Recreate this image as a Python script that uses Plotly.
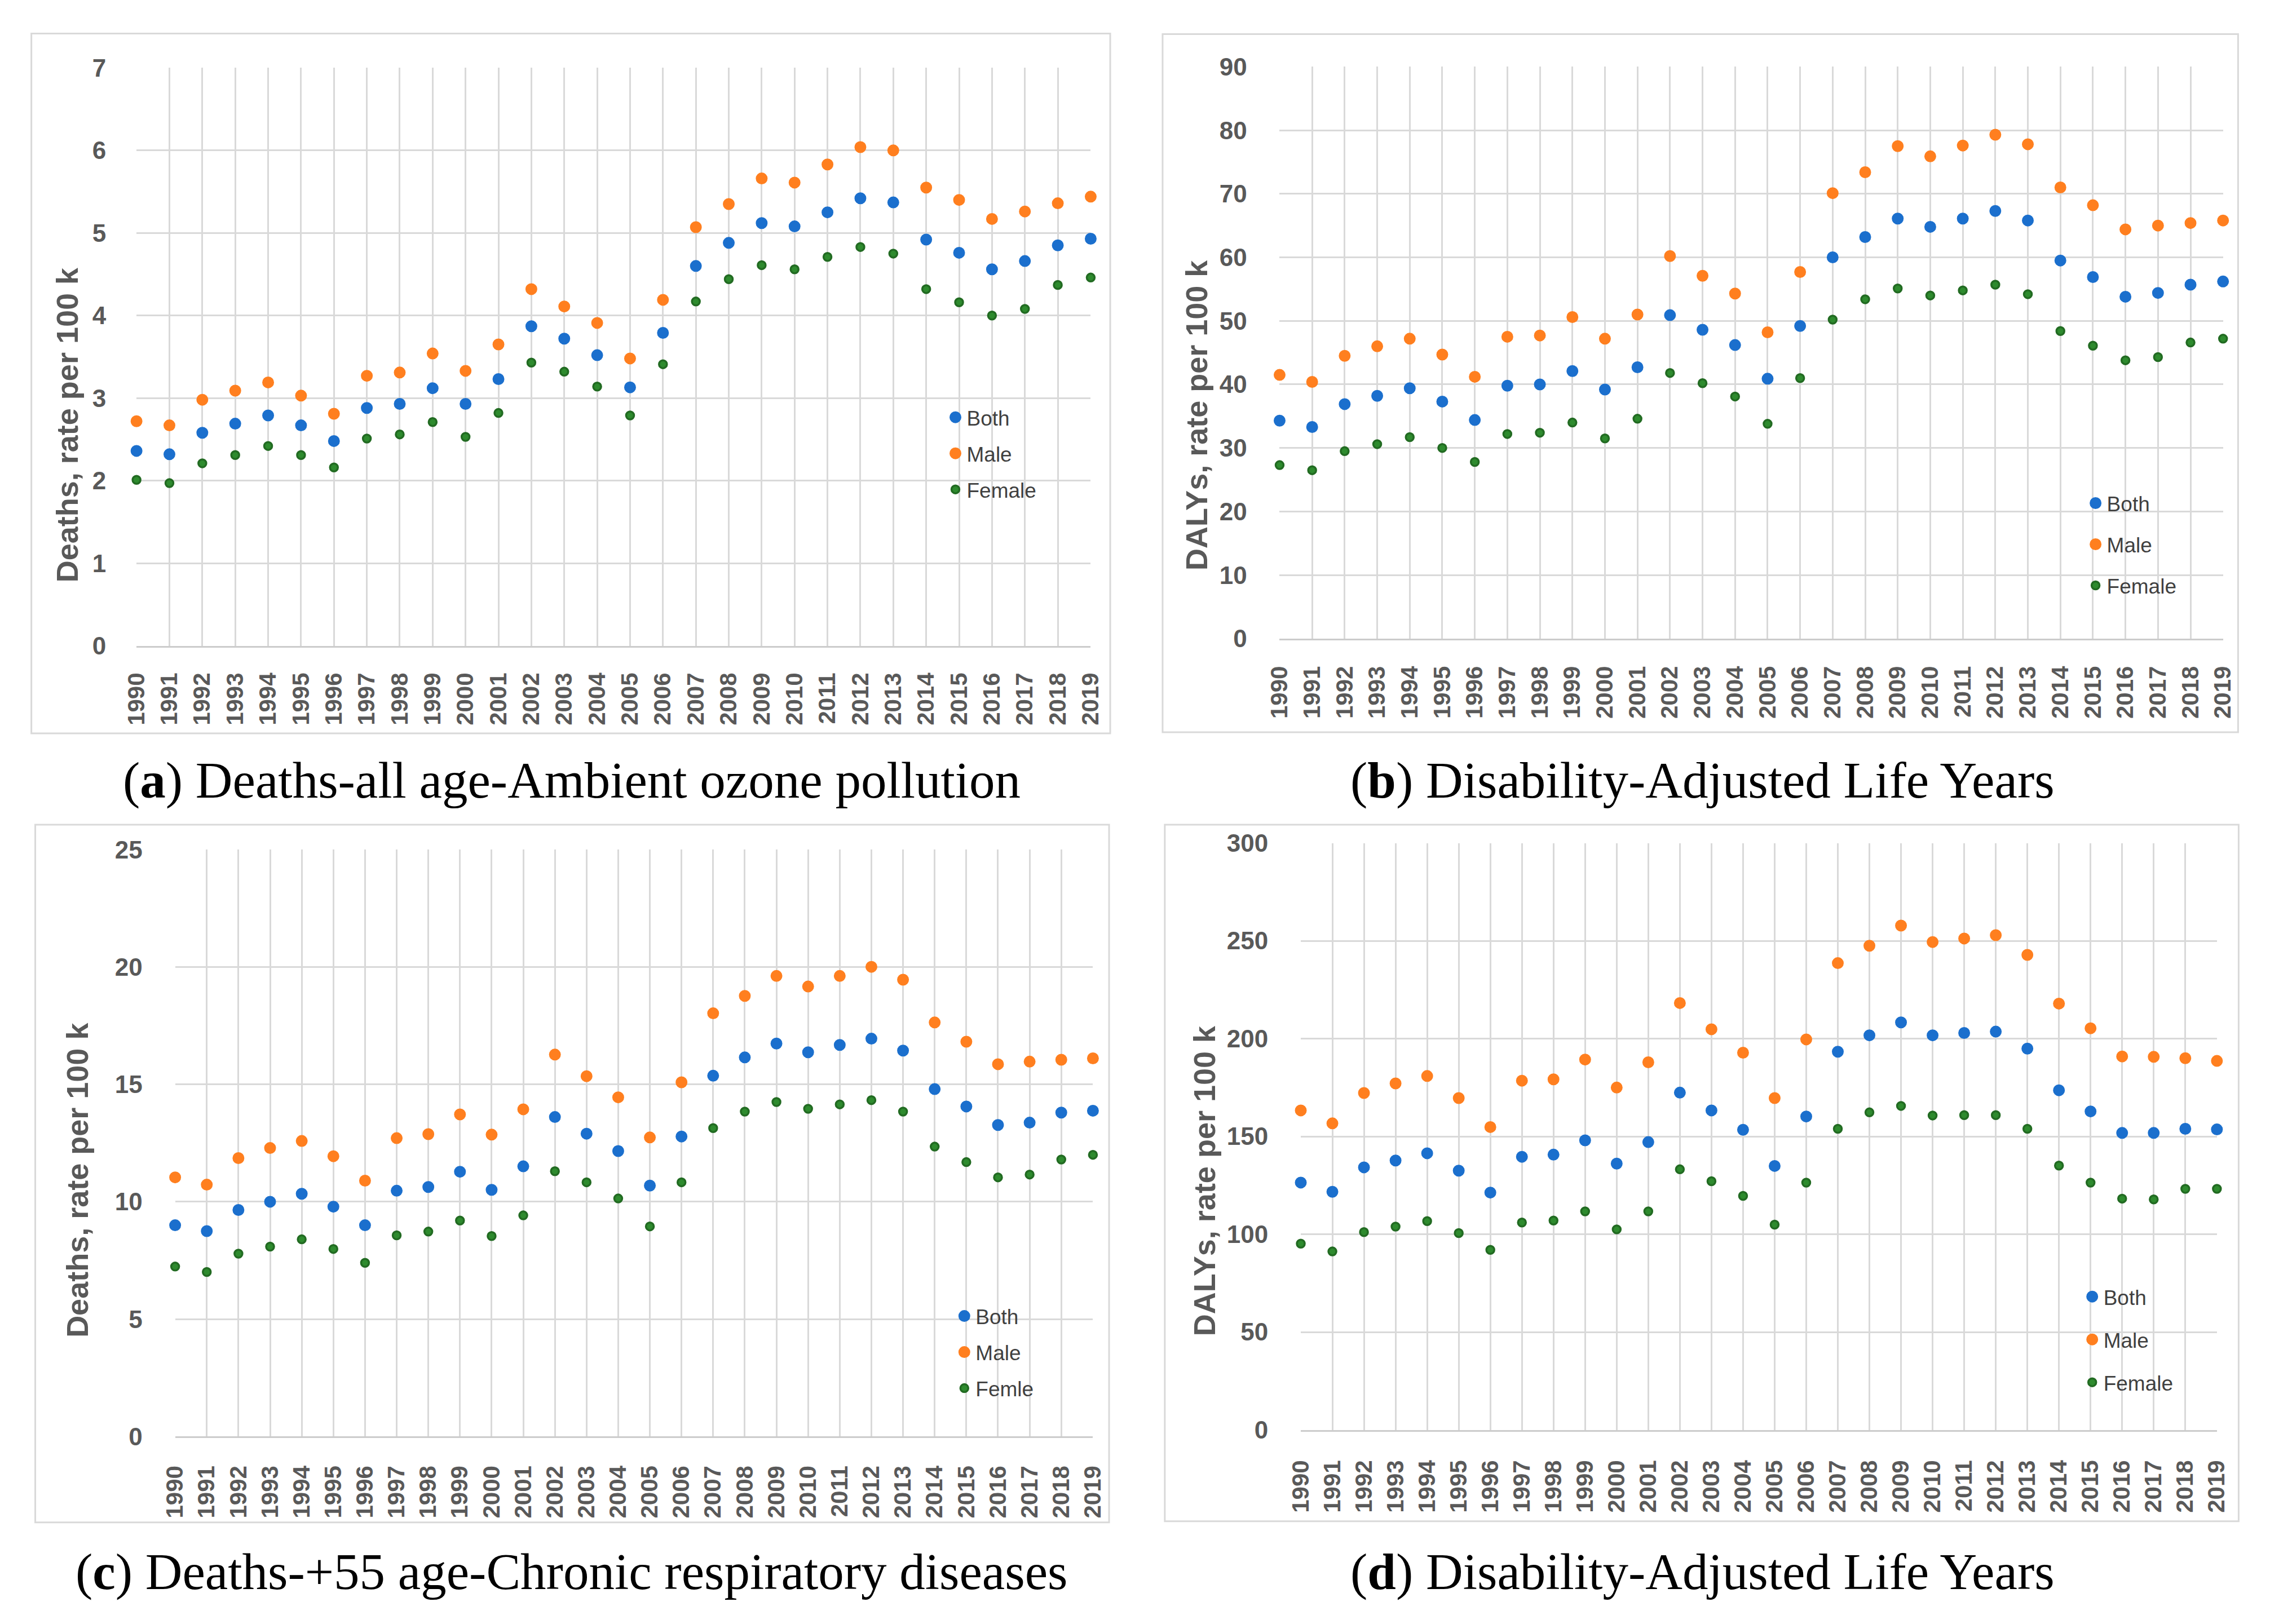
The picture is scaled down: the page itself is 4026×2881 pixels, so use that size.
import plotly.graph_objects as go

# ---------------- data ----------------
years = list(range(1990, 2020))

a_both = [2.36, 2.32, 2.58, 2.69, 2.79, 2.67, 2.48, 2.88, 2.93, 3.12, 2.93, 3.23, 3.87, 3.72, 3.52,
          3.13, 3.79, 4.60, 4.88, 5.12, 5.08, 5.25, 5.42, 5.37, 4.92, 4.76, 4.56, 4.66, 4.85, 4.93]
a_male = [2.72, 2.67, 2.98, 3.09, 3.19, 3.03, 2.81, 3.27, 3.31, 3.54, 3.33, 3.65, 4.32, 4.11, 3.91,
          3.48, 4.19, 5.07, 5.35, 5.66, 5.61, 5.83, 6.04, 6.00, 5.55, 5.40, 5.17, 5.26, 5.36, 5.44]
a_female = [2.01, 1.97, 2.21, 2.31, 2.42, 2.31, 2.16, 2.51, 2.56, 2.71, 2.53, 2.82, 3.43, 3.32, 3.14,
            2.79, 3.41, 4.17, 4.44, 4.61, 4.56, 4.71, 4.83, 4.75, 4.32, 4.16, 4.00, 4.08, 4.37, 4.46]

b_both = [34.3, 33.3, 36.9, 38.2, 39.4, 37.3, 34.4, 39.8, 40.0, 42.1, 39.2, 42.7, 50.9, 48.6, 46.2,
          40.9, 49.2, 60.0, 63.2, 66.1, 64.8, 66.1, 67.3, 65.8, 59.5, 56.9, 53.8, 54.4, 55.7, 56.2]
b_male = [41.5, 40.4, 44.5, 46.0, 47.2, 44.7, 41.2, 47.5, 47.7, 50.6, 47.2, 51.0, 60.2, 57.1, 54.3,
          48.2, 57.7, 70.1, 73.4, 77.5, 75.9, 77.6, 79.3, 77.8, 71.0, 68.2, 64.4, 65.0, 65.4, 65.8]
b_female = [27.3, 26.5, 29.5, 30.6, 31.7, 30.0, 27.8, 32.2, 32.4, 34.0, 31.5, 34.6, 41.8, 40.2, 38.1,
            33.8, 41.0, 50.2, 53.4, 55.1, 54.0, 54.8, 55.7, 54.2, 48.4, 46.1, 43.8, 44.3, 46.6, 47.2]

c_both = [9.00, 8.75, 9.65, 10.00, 10.34, 9.79, 9.00, 10.47, 10.63, 11.28, 10.51, 11.51, 13.61, 12.90, 12.16,
          10.69, 12.78, 15.37, 16.15, 16.74, 16.37, 16.68, 16.95, 16.44, 14.80, 14.06, 13.27, 13.37, 13.80, 13.88]
c_male = [11.04, 10.73, 11.86, 12.29, 12.59, 11.94, 10.90, 12.71, 12.88, 13.72, 12.86, 13.94, 16.27, 15.35, 14.45,
          12.74, 15.09, 18.03, 18.77, 19.62, 19.17, 19.62, 20.01, 19.46, 17.64, 16.82, 15.86, 15.97, 16.05, 16.11]
c_female = [7.24, 7.01, 7.79, 8.09, 8.40, 7.99, 7.40, 8.57, 8.73, 9.20, 8.54, 9.42, 11.30, 10.83, 10.14,
            8.95, 10.83, 13.14, 13.84, 14.25, 13.96, 14.15, 14.33, 13.84, 12.35, 11.69, 11.04, 11.16, 11.80, 12.00]

d_both = [126.4, 121.7, 134.2, 137.7, 141.4, 132.5, 121.3, 139.6, 140.7, 148.0, 136.1, 147.1, 172.4, 163.3, 153.4,
          134.9, 160.2, 193.3, 201.7, 208.3, 201.7, 202.9, 203.6, 194.9, 173.6, 162.8, 151.8, 151.8, 153.9, 153.6]
d_male = [163.3, 156.7, 172.2, 177.1, 180.9, 169.6, 154.8, 178.5, 179.2, 189.3, 175.0, 187.9, 218.2, 204.8, 192.8,
          169.6, 199.6, 238.6, 247.5, 257.8, 249.4, 251.2, 252.9, 242.8, 217.9, 205.3, 190.9, 190.7, 190.0, 188.6]
d_female = [95.2, 91.2, 101.1, 103.9, 106.7, 100.6, 92.0, 106.0, 107.0, 111.7, 102.5, 111.7, 133.2, 127.1, 119.6,
            104.9, 126.4, 153.9, 162.3, 165.6, 160.7, 160.9, 160.9, 153.9, 135.1, 126.4, 118.2, 117.8, 123.2, 123.2]

series_names_a = ["Both", "Male", "Female"]
series_names_c = ["Both", "Male", "Femle"]

y_titles = ["Deaths, rate per 100 k", "DALYs, rate per 100 k",
            "Deaths, rate per 100 k", "DALYs, rate per 100 k"]
captions = ["(<b>a</b>) Deaths-all age-Ambient ozone pollution",
            "(<b>b</b>) Disability-Adjusted Life Years",
            "(<b>c</b>) Deaths-+55 age-Chronic respiratory diseases",
            "(<b>d</b>) Disability-Adjusted Life Years"]
y_max = [7, 90, 25, 300]
y_dtick = [1, 10, 5, 50]

# ---------------- layout helpers ----------------
W, H = 4026, 2881
def fx(px):
    return px / W
def fy(py):
    return 1 - py / H

COL_BOTH = "#1b6fcd"
COL_MALE = "#ff7f1f"
COL_FEMALE = "#2e8b2e"
EDGE_FEMALE = "#226b22"
GRID = "#d9d9d9"
TXT = "#595959"

panels = [
    dict(data=(a_both, a_male, a_female), names=series_names_a,
         plot=(220.7, 97, 1933, 1140), frame=(32, 35, 1968, 1298),
         title_xy=(97, 741), legend_xy=(1691, 722), legend_step=64,
         caption_xy=(1002, 1383), ystand=44, xstand=28),
    dict(data=(b_both, b_male, b_female), names=series_names_a,
         plot=(2272, 95, 3965, 1127), frame=(2062, 36, 3992, 1296),
         title_xy=(2122, 724), legend_xy=(3737, 877), legend_step=73,
         caption_xy=(3031, 1383), ystand=48, xstand=29),
    dict(data=(c_both, c_male, c_female), names=series_names_c,
         plot=(290, 1508, 1937, 2567), frame=(39, 1463, 1966, 2722),
         title_xy=(115, 2104), legend_xy=(1707, 2344), legend_step=64,
         caption_xy=(1001, 2811), ystand=48, xstand=32),
    dict(data=(d_both, d_male, d_female), names=series_names_a,
         plot=(2310, 1496, 3954, 2555), frame=(2066, 1463, 3993, 2720),
         title_xy=(2137, 2106), legend_xy=(3731, 2309), legend_step=76,
         caption_xy=(3031, 2811), ystand=48, xstand=34),
]

fig = go.Figure()
layout = dict(
    width=W, height=H,
    margin=dict(l=0, r=0, t=0, b=0),
    paper_bgcolor="white", plot_bgcolor="white",
    font=dict(family="Liberation Sans, Arial, sans-serif", color=TXT),
    shapes=[], annotations=[],
)

LEG_FONT = 37
ITEM_H = LEG_FONT * 1.3 + 3

# marker size + same-colour outline, so legend symbols keep the visual size
marker_styles = [
    dict(color=COL_BOTH, size=16, line=dict(width=5, color=COL_BOTH)),
    dict(color=COL_MALE, size=16, line=dict(width=5, color=COL_MALE)),
    dict(color=COL_FEMALE, size=14, line=dict(width=3.5, color=EDGE_FEMALE)),
]

for i, p in enumerate(panels):
    n = "" if i == 0 else str(i + 1)
    xa, ya = "x" + n, "y" + n
    leg = "legend" + n
    x0, y0, x1, y1 = p["plot"]
    for vals, name, mst in zip(p["data"], p["names"], marker_styles):
        fig.add_trace(go.Scatter(
            x=years, y=vals, mode="markers", name=name,
            marker=mst,
            xaxis=xa, yaxis=ya, legend=leg, legendgroup=f"{i}_{name}",
            cliponaxis=False, showlegend=True,
        ))
    layout["xaxis" + n] = dict(
        domain=[fx(x0), fx(x1)], anchor=ya, range=[1990, 2019],
        tickmode="array", tickvals=years, ticktext=[str(y) for y in years],
        tickangle=-90, showgrid=True, gridcolor=GRID, gridwidth=2.5,
        showline=True, linecolor="#cccccc", linewidth=3, zeroline=False,
        ticks="outside", ticklen=p["xstand"], tickcolor="rgba(0,0,0,0)",
        tickfont=dict(family="Liberation Sans, Arial, sans-serif", size=42, color=TXT, weight="bold"),
        fixedrange=True,
    )
    layout["yaxis" + n] = dict(
        domain=[fy(y1), fy(y0)], anchor=xa, range=[0, y_max[i]], dtick=y_dtick[i],
        showgrid=True, gridcolor=GRID, gridwidth=2.5, zeroline=False, showline=False,
        ticks="outside", ticklen=p["ystand"], tickcolor="rgba(0,0,0,0)",
        tickfont=dict(family="Liberation Sans, Arial, sans-serif", size=44, color=TXT, weight="bold"),
        fixedrange=True,
    )
    lx, ly = p["legend_xy"]
    layout[leg] = dict(
        x=fx(lx - 21), y=fy(ly - ITEM_H / 2), xanchor="left", yanchor="top",
        bgcolor="rgba(0,0,0,0)", borderwidth=0,
        font=dict(family="Liberation Sans, Arial, sans-serif", size=LEG_FONT, color="#404040"),
        tracegroupgap=max(p["legend_step"] - ITEM_H, 0), itemsizing="trace",
    )
    fx0, fy0, fx1, fy1 = p["frame"]
    layout["shapes"].append(dict(
        type="rect", xref="paper", yref="paper",
        x0=fx(fx0), x1=fx(fx1), y0=fy(fy1), y1=fy(fy0),
        line=dict(color="#d9d9d9", width=3), fillcolor="rgba(0,0,0,0)", layer="below",
    ))
    tx, ty = p["title_xy"]
    layout["annotations"].append(dict(
        text=f"<b>{y_titles[i]}</b>", xref="paper", yref="paper",
        x=fx(tx), y=fy(ty), xanchor="center", yanchor="middle",
        textangle=-90, showarrow=False,
        font=dict(family="Liberation Sans, Arial, sans-serif", size=54, color=TXT),
    ))
    cx, cy = p["caption_xy"]
    layout["annotations"].append(dict(
        text=captions[i], xref="paper", yref="paper",
        x=fx(cx), y=fy(cy), xanchor="center", yanchor="middle",
        showarrow=False,
        font=dict(family="Liberation Serif, Times New Roman, serif", size=91, color="black"),
    ))

fig.update_layout(**layout)
fig.write_html("out.html", config={"displayModeBar": False},
               post_script="document.body.style.margin='0';document.body.style.overflow='hidden';")
